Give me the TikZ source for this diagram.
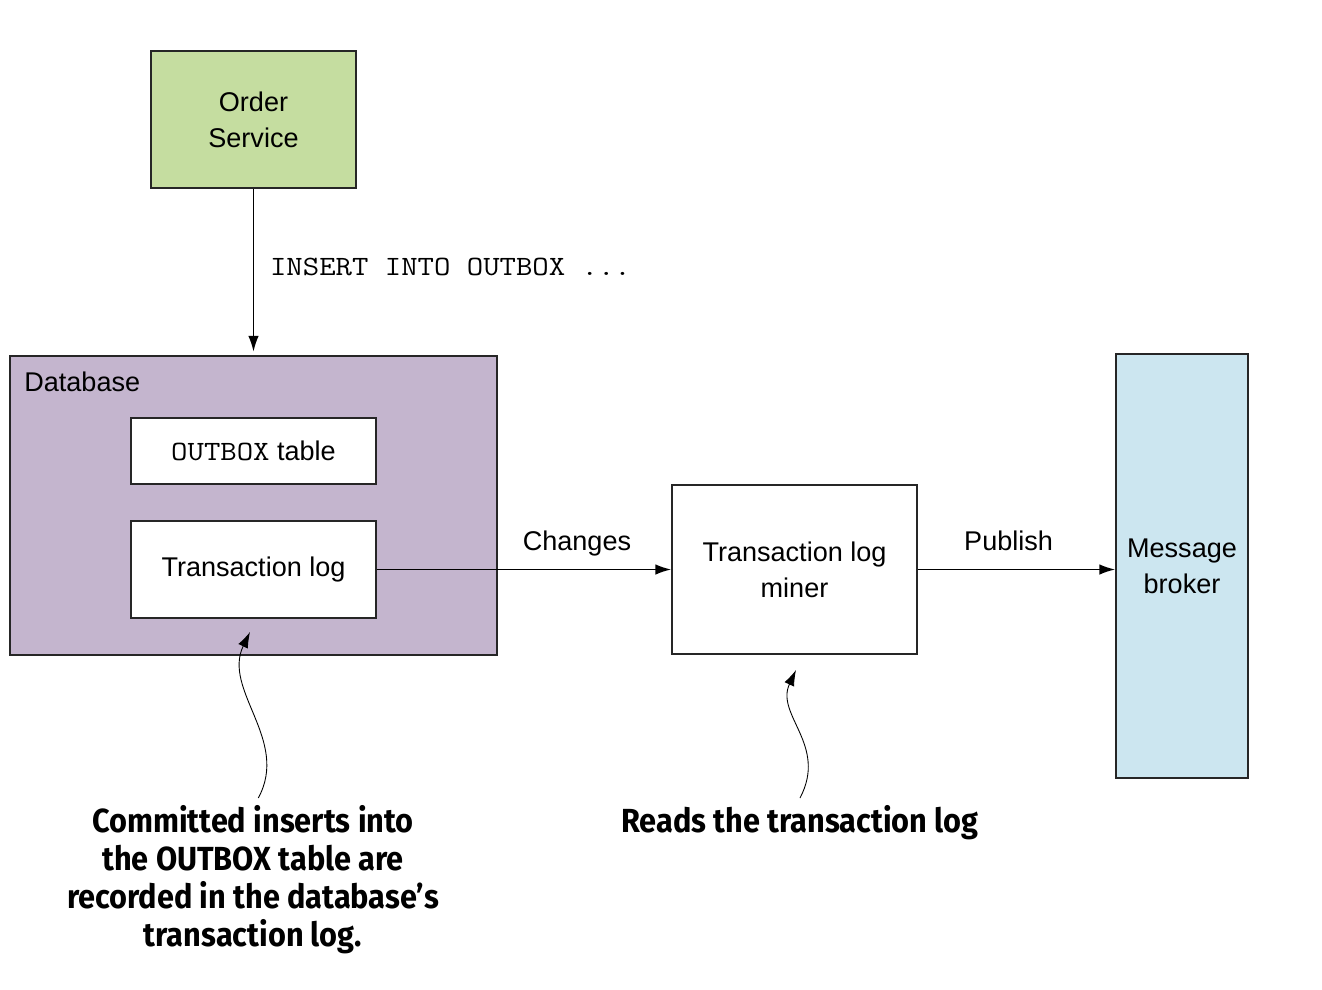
\documentclass[tikz,border=0pt]{standalone}
\usepackage{fontspec}
\setmainfont{Liberation Sans}
\setmonofont[FakeStretch=1.14]{Latin Modern Mono}
\newfontfamily\notefont[FakeStretch=0.92]{Fira Sans}
\usetikzlibrary{arrows.meta}
\definecolor{svcgreen}{HTML}{C5DDA0}
\definecolor{dbpurple}{HTML}{C4B5CE}
\definecolor{brokerblue}{HTML}{CCE6F0}

\begin{document}
\begin{tikzpicture}[x=0.02cm,y=-0.02cm,
    font=\fontsize{15.4}{20.5}\selectfont,
    box/.style={draw=black!85,line width=1pt,align=center,inner sep=0},
    arr/.style={-{Latex[length=9pt,width=6pt]},line width=.85pt},
    thin arr/.style={-{Latex[length=9pt,width=6pt]},line width=.5pt},
    lbl/.style={inner sep=0,text depth=.2em},
    code/.style={font=\ttfamily\fontsize{15.9}{20.5}\selectfont},
    note/.style={font=\notefont\bfseries\fontsize{19}{21.6}\selectfont,align=center,inner sep=3.9pt}]
  \useasboundingbox (0,0) rectangle (1322,990);
  % boxes
  \node[box,fill=svcgreen,minimum width=4.1cm,minimum height=2.74cm] (order) at (253.5,119.5) {Order\\Service};
  \node[box,fill=dbpurple,minimum width=9.74cm,minimum height=5.98cm] (db) at (253.5,505.5) {};
  \node[anchor=west,inner sep=0] (dblabel) at (24,382) {Database};
  \node[box,fill=white,minimum width=4.9cm,minimum height=1.32cm] (outbox) at (253.5,451) {{\ttfamily\fontsize{15.9}{20.5}\selectfont OUTBOX} table};
  \node[box,fill=white,minimum width=4.9cm,minimum height=1.94cm] (txlog) at (253.5,569.5) {Transaction log};
  \node[box,minimum width=4.9cm,minimum height=3.38cm] (miner) at (794.5,569.5) {Transaction log\\miner};
  \node[box,fill=brokerblue,minimum width=2.64cm,minimum height=8.48cm] (broker) at (1182,566) {Message\\broker};
  % flows
  \draw[arr,shorten >=2pt] (order) -- (db)
    node[code,midway,anchor=west,inner sep=0,xshift=9pt,yshift=3pt] (insert) {INSERT INTO OUTBOX ...};
  \draw[arr] (txlog.east) -- (txlog.east -| miner.west) node[lbl,pos=.68,above=8.5pt] (changes) {Changes};
  \draw[arr] (miner.east) -- (miner.east -| broker.west) node[lbl,pos=.46,above=8.5pt] (publish) {Publish};
  % notes
  \node[note,anchor=north] (note1) at (253,798) {Committed inserts into\\the OUTBOX table are\\recorded in the database’s\\transaction log.};
  \node[note,anchor=north] (note2) at (800,798) {Reads the transaction log};
  \coordinate (tip1) at (250,632);
  \coordinate (tip2) at (796,670);
  \draw[thin arr] ([xshift=3pt]note1.north) .. controls (290,740) and (222,690) .. (tip1);
  \draw[thin arr] (note2.north) .. controls (828,745) and (775,715) .. (tip2);
\end{tikzpicture}
\end{document}
